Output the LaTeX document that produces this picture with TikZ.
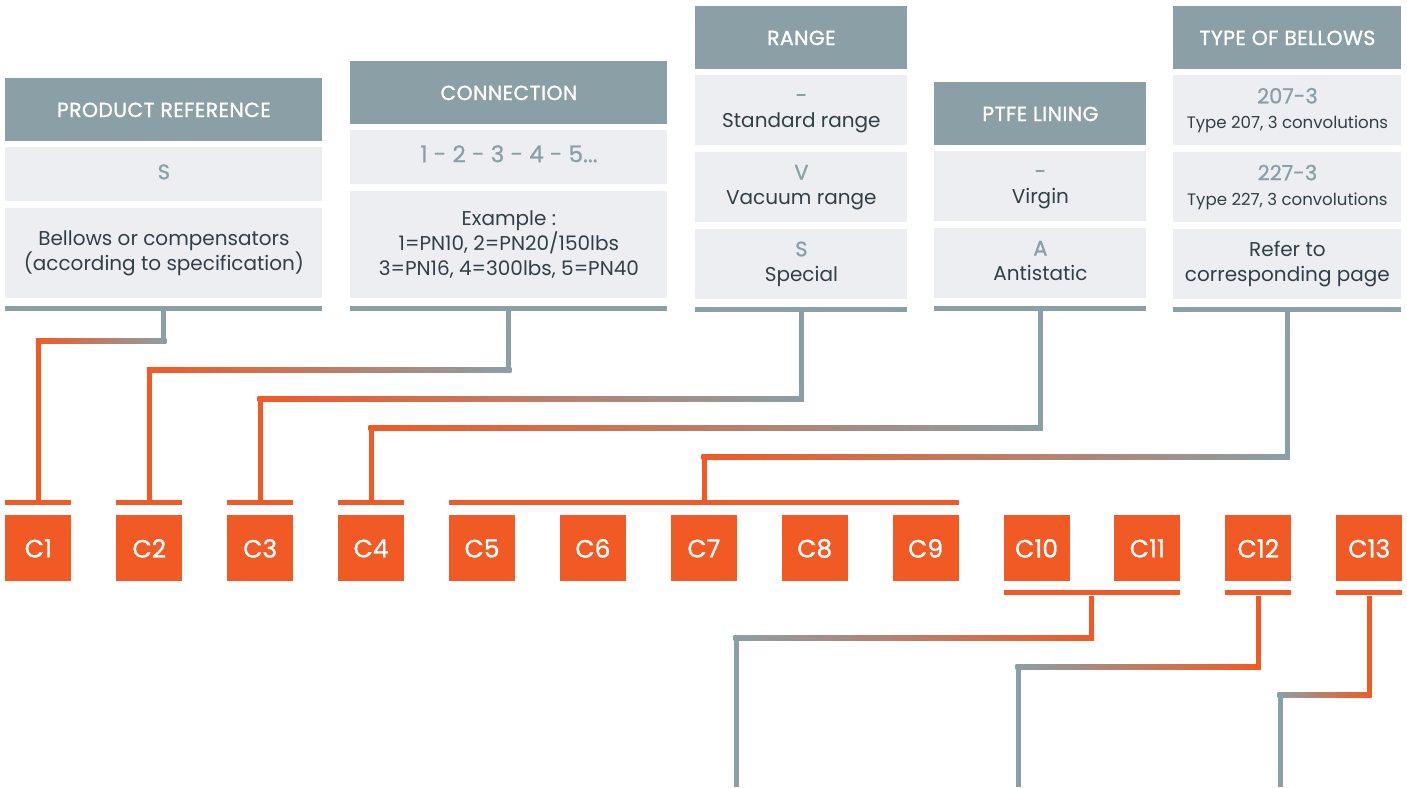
\documentclass[tikz,border=0pt]{standalone}
\usepackage{fontspec}
\setmainfont{Poppins}
\newfontfamily\headfont[FakeBold=1.2,LetterSpace=2]{Poppins}
\newfontfamily\codefont[FakeBold=0.8]{Poppins}
\usepackage{tikz}
\usetikzlibrary{positioning}
\definecolor{slate}{HTML}{8A9FA6}
\definecolor{pale}{HTML}{ECEEF1}
\definecolor{rust}{HTML}{F15A24}
\definecolor{ink}{HTML}{333F46}
\newcommand\cval[1]{\strut{\codefont\fontsize{10.5}{12.5}\selectfont\textcolor{slate}{#1}}}

\begin{document}
\begin{tikzpicture}[x=0.5pt,y=-0.5pt,
        every node/.style={inner sep=0pt, align=center},
        head/.style={fill=slate, text=white, font=\headfont\fontsize{10.2}{12}\selectfont,
            minimum height=31.5pt, anchor=north west},
        cell/.style={fill=pale, text=ink, font=\fontsize{10}{12.5}\selectfont},
        bar/.style={fill=slate, minimum height=2.5pt},
        tick/.style={fill=rust, minimum height=2.5pt},
        cbox/.style={fill=rust, text=white, minimum size=33pt, anchor=north west,
            font=\codefont\fontsize{12.5}{14}\selectfont},
        link/.style={line width=2.5pt}]
    \useasboundingbox (0,0) rectangle (1407,787);

    % product reference
    \node[head, minimum width=158.5pt] (prh) at (5,78) {PRODUCT REFERENCE};
    \node[cell, minimum width=158.5pt, minimum height=27pt, below=2.5pt of prh] (pr1) {\cval{S}};
    \node[cell, minimum width=158.5pt, minimum height=45pt, below=3pt of pr1] (pr2)
        {Bellows or compensators\\(according to specification)};
    \node[bar, minimum width=158.5pt, below=3.5pt of pr2] (prbar) {};

    % connection
    \node[head, minimum width=158.5pt] (cnh) at (350,61) {CONNECTION};
    \node[cell, minimum width=158.5pt, minimum height=27pt, below=2.5pt of cnh] (cn1)
        {\cval{\fontsize{11.5}{13}\selectfont 1 - 2 - 3 - 4 - 5...}};
    \node[cell, minimum width=158.5pt, minimum height=53.5pt, below=3pt of cn1] (cn2)
        {Example :\\1=PN10, 2=PN20/150lbs\\3=PN16, 4=300lbs, 5=PN40};
    \node[bar, minimum width=158.5pt, below=3.5pt of cn2] (cnbar) {};

    % range
    \node[head, minimum width=106pt] (rgh) at (695,6) {RANGE};
    \node[cell, minimum width=106pt, minimum height=35pt, below=2.5pt of rgh] (rg1)
        {\cval{-}\\Standard range\strut};
    \node[cell, minimum width=106pt, minimum height=35pt, below=3pt of rg1] (rg2)
        {\cval{V}\\Vacuum range\strut};
    \node[cell, minimum width=106pt, minimum height=35pt, below=3pt of rg2] (rg3)
        {\cval{S}\\Special\strut};
    \node[bar, minimum width=106pt, below=3.5pt of rg3] (rgbar) {};

    % ptfe lining
    \node[head, minimum width=106pt] (plh) at (934,82) {PTFE LINING};
    \node[cell, minimum width=106pt, minimum height=35pt, below=2.5pt of plh] (pl1)
        {\cval{-}\\Virgin\strut};
    \node[cell, minimum width=106pt, minimum height=35pt, below=3pt of pl1] (pl2)
        {\cval{A}\\Antistatic\strut};
    \node[bar, minimum width=106pt, below=3.5pt of pl2] (plbar) {};

    % type of bellows
    \node[head, minimum width=114pt] (tbh) at (1173,6) {TYPE OF BELLOWS};
    \node[cell, minimum width=114pt, minimum height=35pt, below=2.5pt of tbh] (tb1)
        {\cval{207-3}\\{\fontsize{8.3}{10}\selectfont Type 207, 3 convolutions\strut}};
    \node[cell, minimum width=114pt, minimum height=35pt, below=3pt of tb1] (tb2)
        {\cval{227-3}\\{\fontsize{8.3}{10}\selectfont Type 227, 3 convolutions\strut}};
    \node[cell, minimum width=114pt, minimum height=35pt, below=3pt of tb2] (tb3)
        {Refer to\\corresponding page};
    \node[bar, minimum width=114pt, below=3.5pt of tb3] (tbbar) {};

    % code boxes
    \foreach \i in {1,...,13}
        \node[cbox] (c\i) at ({5+(\i-1)*110.9},515) {C\i};

    \foreach \i in {1,...,4}
        \node[tick, minimum width=33pt, above=4.75pt of c\i] (t\i) {};
    \node[tick, minimum width=255pt, anchor=south west] (tmid) at ([yshift=4.75pt]c5.north west) {};
    \node[tick, minimum width=88pt, anchor=north west] (b1) at ([yshift=-4pt]c10.south west) {};
    \node[tick, minimum width=33pt, below=4pt of c12] (b2) {};
    \node[tick, minimum width=33pt, below=4pt of c13] (b3) {};

    % upper links
    \foreach \src/\tk/\y in {prbar/t1/341, cnbar/t2/370, rgbar/t3/399, plbar/t4/428, tbbar/tmid/457} {
        \coordinate (\src-k) at (\src.south |- 0,\y);
        \coordinate (\tk-k) at (\tk.north |- 0,\y);
        \draw[link, slate] (\src.south) -- (\src-k);
        \shade[left color=rust, right color=slate]
            ([shift={(-1.25pt,-1.25pt)}]\tk-k) rectangle ([shift={(1.25pt,1.25pt)}]\src-k);
        \draw[link, rust] (\tk-k) -- (\tk.north);
    }

    % lower links
    \foreach \tk/\y/\x/\fin in {b1/638/736/e1, b2/667/1018/e2, b3/695/1280/e3} {
        \coordinate (\fin) at (\x,787);
        \coordinate (\tk-k) at (\tk.south |- 0,\y);
        \coordinate (\fin-k) at (\fin |- \tk-k);
        \draw[link, rust] (\tk.south) -- (\tk-k);
        \shade[left color=slate, right color=rust]
            ([shift={(-1.25pt,-1.25pt)}]\fin-k) rectangle ([shift={(1.25pt,1.25pt)}]\tk-k);
        \draw[link, slate] (\fin-k) -- (\fin);
    }
\end{tikzpicture}
\end{document}
